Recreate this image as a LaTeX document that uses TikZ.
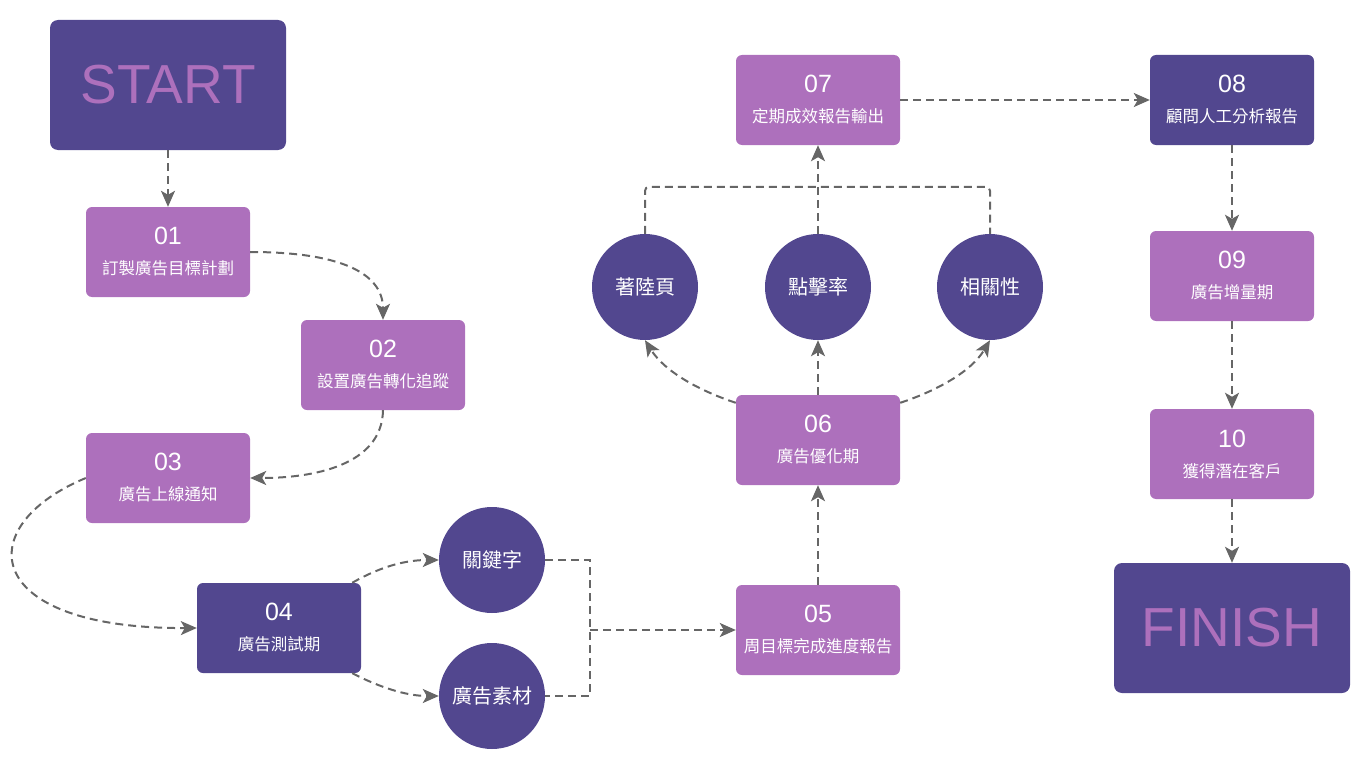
\documentclass[tikz,border=0pt]{standalone}
\usepackage{fontspec}
\setmainfont{Liberation Sans}
\newfontfamily\cjk{Noto Sans CJK TC}
\usetikzlibrary{arrows.meta}
\definecolor{darkPurple}{RGB}{82, 71, 143}
\definecolor{lightPurple}{RGB}{173, 112, 188}
\definecolor{lineGray}{RGB}{102, 102, 102}
\newcommand{\stage}[2]{{\fontsize{25}{28}\selectfont #1}\\{\cjk #2}}

\begin{document}
\begin{tikzpicture}[x=1pt, y=-1pt,
    stagebox/.style={rectangle, rounded corners=6pt, minimum width=164pt, minimum height=90pt,
      inner sep=0pt, align=center, text=white, font=\fontsize{16.5}{30}\selectfont},
    lightbox/.style={stagebox, fill=lightPurple},
    darkbox/.style={stagebox, fill=darkPurple},
    endbox/.style={rectangle, rounded corners=8pt, fill=darkPurple, minimum width=236pt,
      minimum height=130pt, text=lightPurple, font=\fontsize{55}{60}\selectfont},
    factor/.style={circle, fill=darkPurple, minimum size=106pt, inner sep=0pt, text=white,
      font=\cjk\fontsize{20}{24}\selectfont},
    link/.style={draw=lineGray, line width=2pt, dash pattern=on 8pt off 5pt},
    arrow/.style={link, -{Stealth[length=16pt, width=14pt, inset=4pt]}}]
  \useasboundingbox (0,0) rectangle (1366,768);

  % first column
  \node[endbox] (start) at (168,85) {START};
  \node[lightbox] (n01) at (168,252) {\stage{01}{訂製廣告目標計劃}};
  \node[lightbox] (n02) at (383,365) {\stage{02}{設置廣告轉化追蹤}};
  \node[lightbox] (n03) at (168,478) {\stage{03}{廣告上線通知}};
  \node[darkbox] (n04) at (279,628) {\stage{04}{廣告測試期}};
  \node[factor] (kw) at (492,560) {關鍵字};
  \node[factor] (mat) at (492,696) {廣告素材};
  \coordinate (join) at (590,630);

  % middle column
  \node[lightbox] (n05) at (818,630) {\stage{05}{周目標完成進度報告}};
  \node[lightbox] (n06) at (818,440) {\stage{06}{廣告優化期}};
  \node[factor] (land) at (645,287) {著陸頁};
  \node[factor] (ctr) at (818,287) {點擊率};
  \node[factor] (rel) at (990,287) {相關性};
  \node[lightbox] (n07) at (818,100) {\stage{07}{定期成效報告輸出}};

  % last column
  \node[darkbox] (n08) at (1232,100) {\stage{08}{顧問人工分析報告}};
  \node[lightbox] (n09) at (1232,276) {\stage{09}{廣告增量期}};
  \node[lightbox] (n10) at (1232,454) {\stage{10}{獲得潛在客戶}};
  \node[endbox] (finish) at (1232,628) {FINISH};

  % connectors
  \draw[arrow] (start) -- (n01);
  \draw[arrow] (n01.east) .. controls (340,252) and (383,273) .. (n02.north);
  \draw[arrow] (n02.south) .. controls (382,466) and (312,478) .. (n03.east);
  \draw[arrow] (n03.west) .. controls (-30,526) and (-20,629) .. (n04.west);
  \draw[arrow] ([xshift=-9pt]n04.north east) .. controls (385,564) and (410,560) .. (kw.west);
  \draw[arrow] ([xshift=-9pt]n04.south east) .. controls (385,690) and (410,696) .. (mat.west);
  \draw[link] (kw.east) -| (join) |- (mat.east);
  \draw[arrow] (join) -- (n05.west);
  \draw[arrow] (n05) -- (n06);
  \draw[arrow] ([yshift=-8pt]n06.north west) .. controls (700,391) and (665,372) .. (land.south);
  \draw[arrow] (n06) -- (ctr);
  \draw[arrow] ([yshift=-8pt]n06.north east) .. controls (936,391) and (971,372) .. (rel.south);
  \draw[link, rounded corners=4pt] (land.north) |- ([yshift=47pt]ctr.north) -| (rel.north);
  \draw[arrow] (ctr) -- (n07);
  \draw[arrow] (n07) -- (n08);
  \draw[arrow] (n08) -- (n09);
  \draw[arrow] (n09) -- (n10);
  \draw[arrow] (n10) -- (finish);
\end{tikzpicture}
\end{document}
